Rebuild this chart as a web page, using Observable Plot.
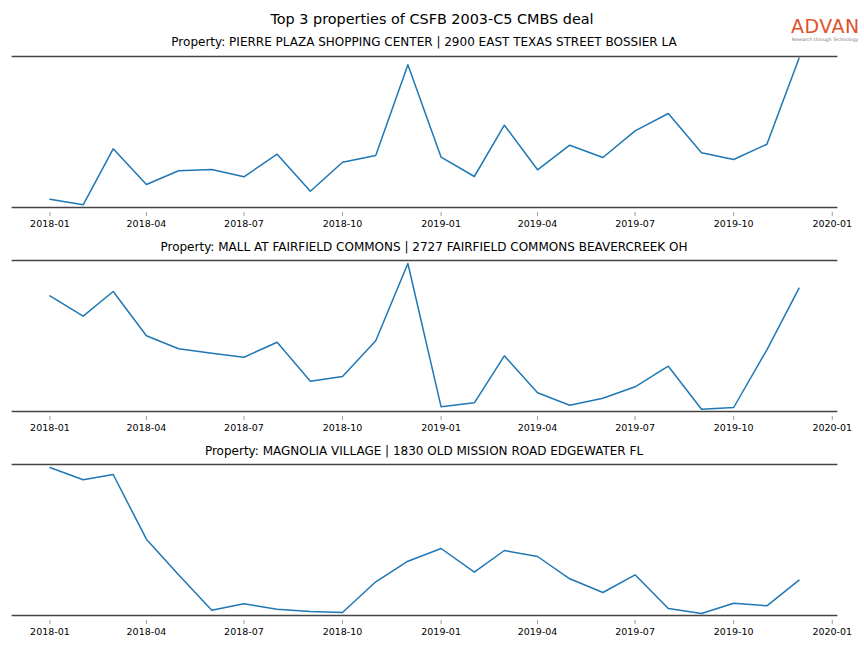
<!DOCTYPE html>
<html><head><meta charset="utf-8">
<script src="https://cdn.jsdelivr.net/npm/d3@7"></script>
<script src="https://cdn.jsdelivr.net/npm/@observablehq/plot@0.6"></script>
<style>
body{margin:0;background:#fff;font-family:"DejaVu Sans",sans-serif;}
#fig{position:relative;width:864px;height:648px;overflow:hidden;background:#fff}
.title{position:absolute;left:0;width:864px;text-align:center;font-size:14.4px;line-height:16px;top:11px;color:#000}
.sub{position:absolute;left:12px;width:824px;text-align:center;font-size:12px;line-height:14px;color:#000}
.panel{position:absolute;left:0;}
.logo{position:absolute;left:791px;top:15px;width:68px;text-align:center}
.logo .a{font-family:"DejaVu Sans",sans-serif;font-size:19px;color:#e0522a;letter-spacing:0.5px;line-height:22px}
.logo .b{font-size:4.5px;color:#777;line-height:5px;white-space:nowrap}
</style></head><body><div id="fig"></div>
<script>
const months = ["2018-01","2018-02","2018-03","2018-04","2018-05","2018-06","2018-07","2018-08","2018-09","2018-10","2018-11","2018-12",
  "2019-01","2019-02","2019-03","2019-04","2019-05","2019-06","2019-07","2019-08","2019-09","2019-10","2019-11","2019-12"];
const plaza = [8.3,2.7,58.7,23,36.7,38,30.7,53.3,16.3,45.3,52,142.7,50.3,31,82.3,37.7,62.3,50,76.7,94,54.7,48,63.3,149.3];
const fairfield = [115.7,95.3,120,75.7,62.7,58.3,54.3,69.3,30.3,35,70.7,148,4.7,8.7,55.7,18.7,6.3,13.3,24.7,45.3,2.3,4,61.7,123.3];
const magnolia = [148,135.7,141,76.3,40.7,5.3,11.7,6.3,4,3,33.7,54.3,67,43.3,65,59,36.7,23,40.7,7,2,12.3,9.7,35.3];
const titles = [
  "Property: PIERRE PLAZA SHOPPING CENTER | 2900 EAST TEXAS STREET BOSSIER LA",
  "Property: MALL AT FAIRFIELD COMMONS | 2727 FAIRFIELD COMMONS BEAVERCREEK OH",
  "Property: MAGNOLIA VILLAGE | 1830 OLD MISSION ROAD EDGEWATER FL"
];
const series = [plaza, fairfield, magnolia];
const suptitle = "Top 3 properties of CSFB 2003-C5 CMBS deal";

const parse = d3.utcParse("%Y-%m");
const dates = months.map(parse);
const t0 = dates[0], t1 = dates[dates.length - 1];
const pad = (t1 - t0) * 0.05;
const xDomain = [new Date(+t0 - pad), new Date(+t1 + pad)];
const tickDates = d3.utcMonth.every(3).range(t0, xDomain[1]);

const fig = document.getElementById("fig");
const tt = document.createElement("div");
tt.className = "title"; tt.textContent = suptitle; fig.appendChild(tt);

const logo = document.createElement("div");
logo.className = "logo";
logo.innerHTML = '<div class="a">ADVAN</div><div class="b">Research through Technology</div>';
fig.appendChild(logo);

const spineTops = [55.5, 260, 464];
const subTops = [35, 239.5, 443.5];
series.forEach((vals, i) => {
  const data = vals.map((v, j) => ({date: dates[j], value: v}));
  const s = document.createElement("div");
  s.className = "sub"; s.style.top = subTops[i] + "px"; s.textContent = titles[i];
  fig.appendChild(s);
  const chart = Plot.plot({
    width: 864, height: 186, marginLeft: 12, marginRight: 28, marginTop: 5, marginBottom: 30,
    style: {background: "transparent", fontFamily: "DejaVu Sans, sans-serif"},
    x: {type: "utc", domain: xDomain, axis: null},
    y: {domain: [0, 151], axis: null},
    marks: [
      Plot.lineY(data, {x: "date", y: "value", stroke: "#1f77b4", strokeWidth: 1.5}),
      Plot.axisX({ticks: tickDates, tickFormat: d3.utcFormat("%Y-%m"), tickSize: 4, tickPadding: 3.5, dy: 5,
        stroke: "#999", fill: "#000", fontSize: 9.5}),
      Plot.frame({anchor: "top", stroke: "#444", strokeWidth: 1.7}),
      Plot.frame({anchor: "bottom", stroke: "#444", strokeWidth: 1.7})
    ]
  });
  chart.classList.add("panel");
  chart.style.position = "absolute";
  chart.style.top = (spineTops[i] - 5) + "px";
  fig.appendChild(chart);
});
</script></body></html>
